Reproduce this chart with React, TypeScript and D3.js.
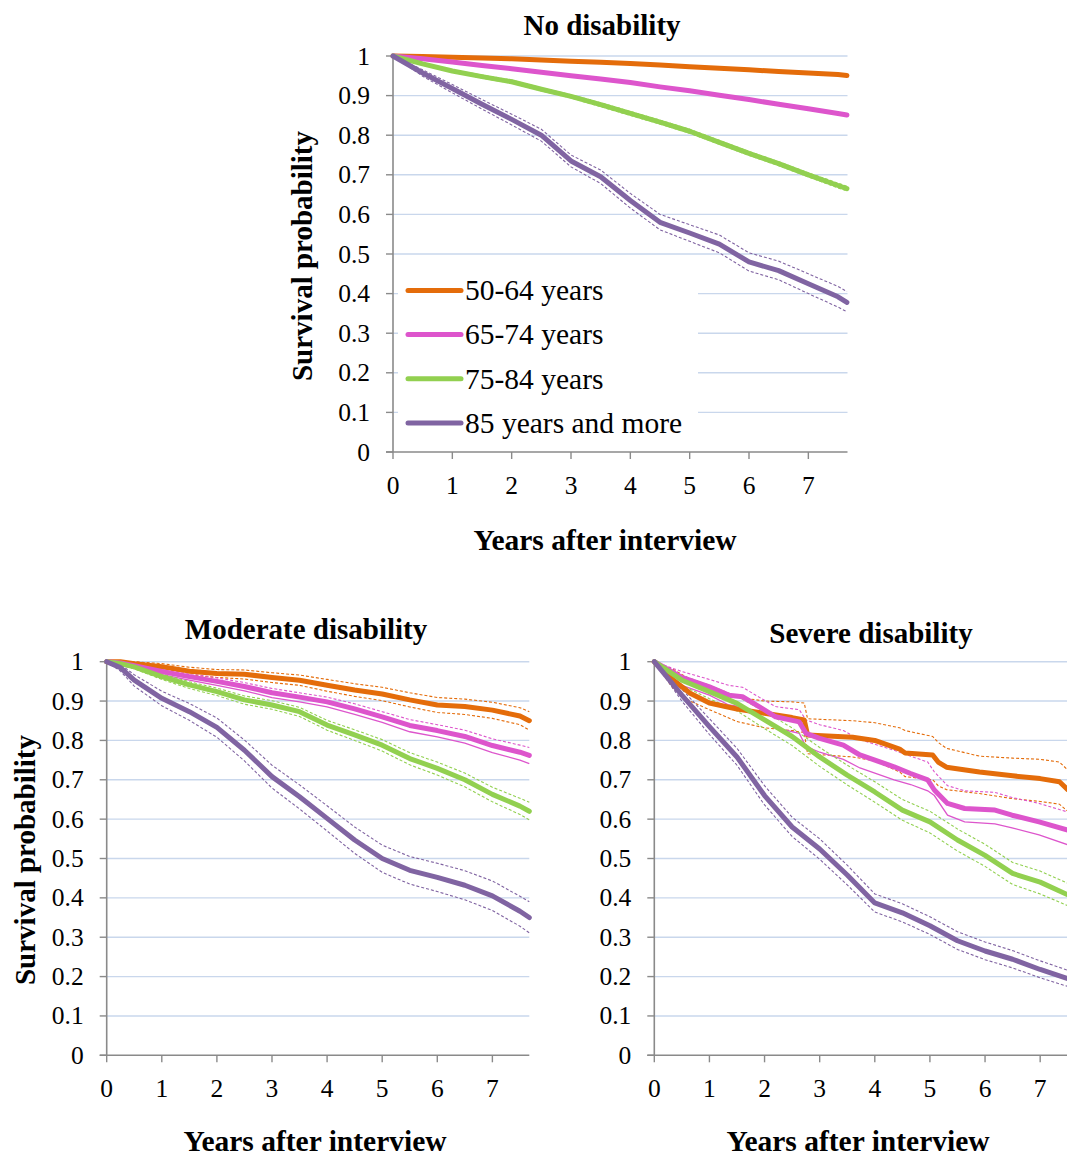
import React from 'react';
import * as d3 from 'd3';

// ---------- shared labels ----------
const GROUPS = ['50-64 years', '65-74 years', '75-84 years', '85 years and more'];
const COLORS = ['#E46C0A', '#DD55CC', '#92D050', '#8064A2'];
const YEAR_TICKS = [0, 1, 2, 3, 4, 5, 6, 7];
const PROB_TICKS = [0, 0.1, 0.2, 0.3, 0.4, 0.5, 0.6, 0.7, 0.8, 0.9, 1];
const PROB_LABELS = ['0', '0.1', '0.2', '0.3', '0.4', '0.5', '0.6', '0.7', '0.8', '0.9', '1'];
const X_TITLE = 'Years after interview';
const Y_TITLE = 'Survival probability';

// ---------- No disability ----------
const T_NO = [0, 0.5, 1, 1.5, 2, 2.5, 3, 3.5, 4, 4.5, 5, 5.5, 6, 6.5, 7, 7.5, 7.65];
const NO_5064 = [1, 0.999, 0.997, 0.995, 0.993, 0.99, 0.987, 0.984, 0.981, 0.977, 0.973, 0.969, 0.965, 0.961, 0.957, 0.953, 0.951];
const NO_6574 = [1, 0.993, 0.985, 0.976, 0.968, 0.959, 0.95, 0.942, 0.933, 0.922, 0.912, 0.901, 0.89, 0.878, 0.867, 0.855, 0.851];
const NO_7584 = [1, 0.98, 0.962, 0.948, 0.935, 0.916, 0.898, 0.877, 0.855, 0.833, 0.81, 0.782, 0.754, 0.728, 0.7, 0.673, 0.665];
const NO_7584_HI = [1, 0.983, 0.965, 0.952, 0.939, 0.92, 0.902, 0.882, 0.86, 0.838, 0.815, 0.787, 0.759, 0.733, 0.705, 0.679, 0.671];
const NO_7584_LO = [1, 0.977, 0.959, 0.944, 0.931, 0.912, 0.894, 0.872, 0.85, 0.828, 0.805, 0.777, 0.749, 0.723, 0.695, 0.667, 0.659];
const NO_85 = [1, 0.957, 0.918, 0.878, 0.84, 0.8, 0.735, 0.695, 0.635, 0.58, 0.553, 0.525, 0.48, 0.458, 0.425, 0.392, 0.378];
const NO_85_HI = [1, 0.965, 0.928, 0.89, 0.853, 0.815, 0.75, 0.712, 0.653, 0.6, 0.574, 0.548, 0.503, 0.482, 0.45, 0.418, 0.405];
const NO_85_LO = [1, 0.949, 0.907, 0.866, 0.826, 0.785, 0.72, 0.678, 0.616, 0.561, 0.532, 0.503, 0.457, 0.435, 0.4, 0.366, 0.354];

// ---------- Moderate disability ----------
const T_MOD = [0, 0.25, 0.5, 1, 1.5, 2, 2.5, 3, 3.5, 4, 4.5, 5, 5.5, 6, 6.5, 7, 7.5, 7.67];
const MOD_5064 = [1, 1, 0.995, 0.987, 0.976, 0.97, 0.968, 0.96, 0.953, 0.94, 0.928, 0.918, 0.903, 0.89, 0.886, 0.877, 0.862, 0.85];
const MOD_5064_HI = [1, 1, 1, 0.995, 0.986, 0.98, 0.979, 0.972, 0.966, 0.955, 0.944, 0.935, 0.921, 0.909, 0.905, 0.897, 0.883, 0.873];
const MOD_5064_LO = [1, 1, 0.99, 0.978, 0.966, 0.96, 0.956, 0.947, 0.94, 0.925, 0.912, 0.901, 0.885, 0.871, 0.866, 0.856, 0.84, 0.826];
const MOD_6574 = [1, 0.997, 0.99, 0.975, 0.962, 0.95, 0.937, 0.921, 0.91, 0.898, 0.88, 0.86, 0.838, 0.825, 0.81, 0.787, 0.77, 0.762];
const MOD_6574_HI = [1, 1, 0.995, 0.982, 0.97, 0.959, 0.947, 0.932, 0.921, 0.91, 0.893, 0.873, 0.853, 0.84, 0.826, 0.804, 0.788, 0.782];
const MOD_6574_LO = [1, 0.993, 0.984, 0.967, 0.953, 0.94, 0.926, 0.909, 0.898, 0.885, 0.866, 0.846, 0.822, 0.809, 0.793, 0.769, 0.75, 0.741];
const MOD_7584 = [1, 0.995, 0.987, 0.962, 0.941, 0.924, 0.903, 0.89, 0.873, 0.839, 0.814, 0.788, 0.754, 0.729, 0.7, 0.663, 0.633, 0.62];
const MOD_7584_HI = [1, 0.998, 0.991, 0.969, 0.949, 0.933, 0.913, 0.901, 0.884, 0.851, 0.827, 0.802, 0.769, 0.745, 0.717, 0.681, 0.653, 0.643];
const MOD_7584_LO = [1, 0.991, 0.982, 0.955, 0.932, 0.914, 0.892, 0.879, 0.861, 0.826, 0.8, 0.773, 0.738, 0.712, 0.682, 0.644, 0.612, 0.598];
const MOD_85 = [1, 0.985, 0.953, 0.907, 0.873, 0.833, 0.775, 0.708, 0.657, 0.602, 0.547, 0.5, 0.47, 0.452, 0.432, 0.405, 0.366, 0.35];
const MOD_85_HI = [1, 0.993, 0.967, 0.925, 0.894, 0.857, 0.801, 0.737, 0.687, 0.634, 0.58, 0.534, 0.505, 0.488, 0.469, 0.443, 0.404, 0.39];
const MOD_85_LO = [1, 0.976, 0.938, 0.888, 0.851, 0.808, 0.748, 0.679, 0.626, 0.57, 0.513, 0.465, 0.435, 0.416, 0.395, 0.368, 0.328, 0.311];

// ---------- Severe disability ----------
const T_SEV_5064 = [0, 0.35, 0.65, 1, 1.5, 2, 2.5, 2.72, 2.78, 3.6, 4, 4.45, 4.55, 5.05, 5.15, 5.3, 5.9, 6.5, 7, 7.35, 7.5, 7.65];
const SEV_5064 = [1, 0.953, 0.92, 0.895, 0.88, 0.869, 0.858, 0.852, 0.814, 0.808, 0.8, 0.778, 0.768, 0.763, 0.745, 0.732, 0.72, 0.71, 0.703, 0.695, 0.675, 0.665];
const SEV_5064_HI = [1, 0.98, 0.955, 0.93, 0.91, 0.9, 0.898, 0.895, 0.855, 0.85, 0.845, 0.832, 0.825, 0.81, 0.795, 0.78, 0.76, 0.755, 0.752, 0.745, 0.725, 0.715];
const SEV_5064_LO = [1, 0.93, 0.9, 0.878, 0.848, 0.832, 0.825, 0.82, 0.766, 0.758, 0.748, 0.72, 0.708, 0.7, 0.685, 0.675, 0.665, 0.652, 0.645, 0.638, 0.62, 0.608];
const T_SEV_6574 = [0, 0.5, 1, 1.35, 1.6, 1.9, 2.2, 2.63, 2.75, 3, 3.43, 3.73, 4.35, 4.65, 4.96, 5.08, 5.32, 5.63, 6.18, 6.49, 6.98, 7.5, 7.65];
const SEV_6574 = [1, 0.96, 0.936, 0.915, 0.911, 0.886, 0.86, 0.847, 0.818, 0.805, 0.788, 0.763, 0.733, 0.716, 0.7, 0.674, 0.64, 0.627, 0.623, 0.61, 0.593, 0.572, 0.565];
const SEV_6574_HI = [1, 0.975, 0.955, 0.94, 0.935, 0.91, 0.886, 0.878, 0.852, 0.84, 0.825, 0.802, 0.775, 0.76, 0.745, 0.72, 0.685, 0.672, 0.668, 0.655, 0.64, 0.618, 0.612];
const SEV_6574_LO = [1, 0.94, 0.915, 0.89, 0.885, 0.858, 0.832, 0.818, 0.785, 0.77, 0.752, 0.73, 0.7, 0.688, 0.672, 0.66, 0.61, 0.593, 0.588, 0.578, 0.56, 0.535, 0.528];
const T_SEV = [0, 0.5, 1, 1.5, 2, 2.5, 3, 3.5, 4, 4.5, 5, 5.5, 6, 6.5, 7, 7.5, 7.65];
const SEV_7584 = [1, 0.953, 0.924, 0.894, 0.852, 0.81, 0.758, 0.712, 0.669, 0.623, 0.593, 0.547, 0.508, 0.462, 0.44, 0.408, 0.4];
const SEV_7584_HI = [1, 0.965, 0.94, 0.912, 0.873, 0.832, 0.782, 0.737, 0.695, 0.65, 0.62, 0.575, 0.536, 0.49, 0.468, 0.437, 0.429];
const SEV_7584_LO = [1, 0.94, 0.906, 0.875, 0.83, 0.787, 0.734, 0.687, 0.643, 0.597, 0.565, 0.519, 0.48, 0.434, 0.41, 0.38, 0.372];
const SEV_85 = [1, 0.915, 0.835, 0.758, 0.66, 0.58, 0.524, 0.458, 0.387, 0.362, 0.329, 0.291, 0.265, 0.244, 0.218, 0.195, 0.188];
const SEV_85_HI = [1, 0.93, 0.855, 0.78, 0.685, 0.605, 0.55, 0.483, 0.41, 0.385, 0.352, 0.314, 0.288, 0.266, 0.24, 0.216, 0.21];
const SEV_85_LO = [1, 0.9, 0.815, 0.737, 0.636, 0.556, 0.498, 0.433, 0.364, 0.339, 0.307, 0.269, 0.243, 0.222, 0.197, 0.175, 0.168];

type Series = {
  g: number;
  t: number[];
  v: number[];
  hi?: number[];
  lo?: number[];
  loSolid?: boolean;
};

const FONT = '"Liberation Serif", "Times New Roman", serif';
const GRID = '#C9D7EC';
const AXIS = '#8A8A8A';

type PanelProps = {
  left: number;
  right: number;
  top: number;
  bottom: number;
  xMax: number;
  series: Series[];
  title: string;
  titleX: number;
  titleY: number;
  xTitleX: number;
  xTitleY: number;
  yTitle?: { x: number; y: number };
  legend?: boolean;
};

function Panel(p: PanelProps) {
  const x = d3.scaleLinear().domain([0, p.xMax]).range([p.left, p.right]);
  const y = d3.scaleLinear().domain([0, 1]).range([p.bottom, p.top]);
  const line = d3
    .line<[number, number]>()
    .x((d) => x(d[0]))
    .y((d) => y(d[1]))
    .curve(d3.curveLinear);
  const pts = (t: number[], v: number[]) => t.map((tt, i) => [tt, v[i]] as [number, number]);

  const legendTop = y(0.47);
  const legendRows = [0.408, 0.297, 0.185, 0.073].map((v) => y(v));

  return (
    <g>
      {PROB_TICKS.filter((v) => v > 0).map((v) => (
        <line key={'g' + v} x1={p.left} x2={p.right} y1={y(v)} y2={y(v)} stroke={GRID} strokeWidth={1.4} />
      ))}
      <line x1={p.left} x2={p.left} y1={y(1)} y2={p.bottom} stroke={AXIS} strokeWidth={1.6} />
      <line x1={p.left - 7} x2={p.right} y1={p.bottom} y2={p.bottom} stroke={AXIS} strokeWidth={1.6} />
      {PROB_TICKS.map((v) => (
        <line key={'yt' + v} x1={p.left - 7} x2={p.left} y1={y(v)} y2={y(v)} stroke={AXIS} strokeWidth={1.4} />
      ))}
      {YEAR_TICKS.map((t) => (
        <line key={'xt' + t} x1={x(t)} x2={x(t)} y1={p.bottom} y2={p.bottom + 7} stroke={AXIS} strokeWidth={1.4} />
      ))}
      {PROB_TICKS.map((v, i) => (
        <text key={'yl' + v} x={p.left - 23} y={y(v)} textAnchor="end" dominantBaseline="central" fontSize={25.5} fontFamily={FONT} fill="#000">
          {PROB_LABELS[i]}
        </text>
      ))}
      {YEAR_TICKS.map((t) => (
        <text key={'xl' + t} x={x(t)} y={p.bottom + 33} textAnchor="middle" dominantBaseline="central" fontSize={25.5} fontFamily={FONT} fill="#000">
          {String(t)}
        </text>
      ))}
      {p.series.map((s) => (
        <g key={'ci' + s.g}>
          {s.hi && (
            <path d={line(pts(s.t, s.hi)) || ''} fill="none" stroke={COLORS[s.g]} strokeWidth={1.1} strokeDasharray="3 2" />
          )}
          {s.lo && (
            <path
              d={line(pts(s.t, s.lo)) || ''}
              fill="none"
              stroke={COLORS[s.g]}
              strokeWidth={s.loSolid ? 1.3 : 1.1}
              strokeDasharray={s.loSolid ? undefined : '3 2'}
            />
          )}
        </g>
      ))}
      {p.series.map((s) => (
        <path
          key={'m' + s.g}
          d={line(pts(s.t, s.v)) || ''}
          fill="none"
          stroke={COLORS[s.g]}
          strokeWidth={5}
          strokeLinejoin="round"
          strokeLinecap="round"
        />
      ))}
      {p.legend && (
        <g>
          <rect x={p.left + 5} y={legendTop} width={300} height={p.bottom - 8 - legendTop} fill="#fff" />
          {GROUPS.map((name, i) => (
            <g key={name}>
              <line x1={p.left + 15} x2={p.left + 68} y1={legendRows[i]} y2={legendRows[i]} stroke={COLORS[i]} strokeWidth={5} strokeLinecap="round" />
              <text x={p.left + 72} y={legendRows[i]} dominantBaseline="central" fontSize={29.5} fontFamily={FONT} fill="#000">
                {name}
              </text>
            </g>
          ))}
        </g>
      )}
      <text x={p.titleX} y={p.titleY} textAnchor="middle" fontSize={29} fontWeight="bold" fontFamily={FONT} fill="#000">
        {p.title}
      </text>
      <text x={p.xTitleX} y={p.xTitleY} textAnchor="middle" fontSize={29.5} fontWeight="bold" fontFamily={FONT} fill="#000">
        {X_TITLE}
      </text>
      {p.yTitle && (
        <text
          transform={`translate(${p.yTitle.x},${p.yTitle.y}) rotate(-90)`}
          textAnchor="middle"
          dominantBaseline="central"
          fontSize={29}
          fontWeight="bold"
          fontFamily={FONT}
          fill="#000"
        >
          {Y_TITLE}
        </text>
      )}
    </g>
  );
}

const NO_SERIES: Series[] = [
  { g: 0, t: T_NO, v: NO_5064 },
  { g: 1, t: T_NO, v: NO_6574 },
  { g: 2, t: T_NO, v: NO_7584, hi: NO_7584_HI, lo: NO_7584_LO },
  { g: 3, t: T_NO, v: NO_85, hi: NO_85_HI, lo: NO_85_LO },
];
const MOD_SERIES: Series[] = [
  { g: 0, t: T_MOD, v: MOD_5064, hi: MOD_5064_HI, lo: MOD_5064_LO },
  { g: 1, t: T_MOD, v: MOD_6574, hi: MOD_6574_HI, lo: MOD_6574_LO, loSolid: true },
  { g: 2, t: T_MOD, v: MOD_7584, hi: MOD_7584_HI, lo: MOD_7584_LO },
  { g: 3, t: T_MOD, v: MOD_85, hi: MOD_85_HI, lo: MOD_85_LO },
];
const SEV_SERIES: Series[] = [
  { g: 0, t: T_SEV_5064, v: SEV_5064, hi: SEV_5064_HI, lo: SEV_5064_LO },
  { g: 1, t: T_SEV_6574, v: SEV_6574, hi: SEV_6574_HI, lo: SEV_6574_LO, loSolid: true },
  { g: 2, t: T_SEV, v: SEV_7584, hi: SEV_7584_HI, lo: SEV_7584_LO },
  { g: 3, t: T_SEV, v: SEV_85, hi: SEV_85_HI, lo: SEV_85_LO },
];

export default function App() {
  return (
    <svg
      width={1067}
      height={1158}
      viewBox="0 0 1067 1158"
      style={{ position: 'absolute', left: 0, top: 0, display: 'block', background: '#fff' }}
    >
      <rect x={0} y={0} width={1067} height={1158} fill="#fff" />
      <Panel
        left={393}
        right={847.5}
        top={56}
        bottom={452}
        xMax={7.66}
        series={NO_SERIES}
        title="No disability"
        titleX={602}
        titleY={35}
        xTitleX={605}
        xTitleY={550}
        yTitle={{ x: 302, y: 256 }}
        legend
      />
      <Panel
        left={106.7}
        right={529.3}
        top={661.7}
        bottom={1055.3}
        xMax={7.67}
        series={MOD_SERIES}
        title="Moderate disability"
        titleX={306}
        titleY={639}
        xTitleX={315}
        xTitleY={1151}
        yTitle={{ x: 25, y: 860 }}
      />
      <Panel
        left={654.3}
        right={1076}
        top={661.7}
        bottom={1055.3}
        xMax={7.65}
        series={SEV_SERIES}
        title="Severe disability"
        titleX={871}
        titleY={643}
        xTitleX={858}
        xTitleY={1151}
      />
    </svg>
  );
}
